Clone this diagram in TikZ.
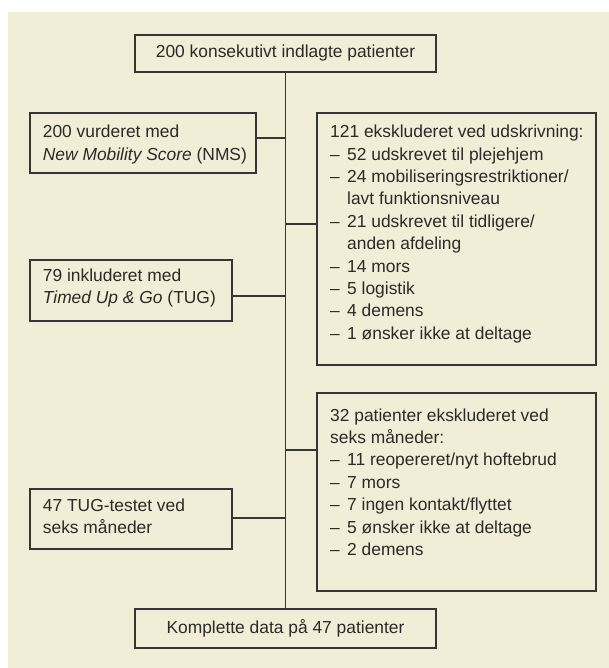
\documentclass[tikz,border=0pt]{standalone}
\usepackage{fontspec}
\setmainfont{Liberation Sans}
\definecolor{bg}{HTML}{F2EDD6}
\definecolor{ln}{HTML}{363636}
\definecolor{tx}{HTML}{2A2A2A}
\newcommand{\dashitem}{\makebox[17pt][l]{–}}
\newcommand{\contitem}{\hspace*{17pt}}
\begin{document}
\begin{tikzpicture}[x=1pt,y=-1pt,
  box/.style={draw=ln, line width=1.1pt, rectangle, inner sep=0pt, text=tx,
    font=\fontsize{17.4}{22.4}\selectfont},
  txt/.style={text=tx, inner sep=0pt, anchor=north west, align=left,
    font=\fontsize{17.4}{22.4}\selectfont},
  conn/.style={draw=ln, line width=1.1pt}]
\useasboundingbox (0,0) rectangle (609,668);
\fill[bg] (8,12) rectangle (609,668);

% boxes
\node[box, minimum width=301pt, minimum height=37pt] (top) at (285.5,53.5) {200 konsekutivt indlagte patienter};
\node[box, minimum width=226pt, minimum height=60pt] (nms) at (143,143) {};
\node[box, minimum width=202pt, minimum height=61pt] (tug) at (131,290.5) {};
\node[box, minimum width=202pt, minimum height=60pt] (t47) at (131,519) {};
\node[box, minimum width=279pt, minimum height=252pt] (ex1) at (456.5,239) {};
\node[box, minimum width=279pt, minimum height=198pt] (ex2) at (456.5,492) {};
\node[box, minimum width=301pt, minimum height=39pt] (bot) at (285.5,628.5) {Komplette data på 47 patienter};

% texts
\node[txt] (nmst) at (42.7,121.8) {\strut 200 vurderet med\\\textit{New Mobility Score} (NMS)};
\node[txt] (tugt) at (42.7,265.3) {\strut 79 inkluderet med\\\textit{Timed Up \& Go} (TUG)};
\node[txt] (t47t) at (42.7,495.3) {\strut 47 TUG-testet ved\\seks måneder};
\node[txt] (ex1t) at (330,121.8) {\strut 121 ekskluderet ved udskrivning:\\
\dashitem 52 udskrevet til plejehjem\\
\dashitem 24 mobiliseringsrestriktioner/\\
\contitem lavt funktionsniveau\\
\dashitem 21 udskrevet til tidligere/\\
\contitem anden afdeling\\
\dashitem 14 mors\\
\dashitem 5 logistik\\
\dashitem 4 demens\\
\dashitem 1 ønsker ikke at deltage};
\node[txt] (ex2t) at (330,405.3) {\strut 32 patienter ekskluderet ved\\
seks måneder:\\
\dashitem 11 reopereret/nyt hoftebrud\\
\dashitem 7 mors\\
\dashitem 7 ingen kontakt/flyttet\\
\dashitem 5 ønsker ikke at deltage\\
\dashitem 2 demens};

% connectors
\draw[conn] (top.south) -- (bot.north);
\coordinate (j1) at (285.5,138);
\coordinate (j2) at (285.5,224);
\coordinate (j3) at (285.5,296);
\coordinate (j4) at (285.5,450);
\coordinate (j5) at (285.5,518);
\draw[conn] (nms.east |- j1) -- (j1);
\draw[conn] (j2) -- (j2 -| ex1.west);
\draw[conn] (tug.east |- j3) -- (j3);
\draw[conn] (j4) -- (j4 -| ex2.west);
\draw[conn] (t47.east |- j5) -- (j5);
\end{tikzpicture}
\end{document}
